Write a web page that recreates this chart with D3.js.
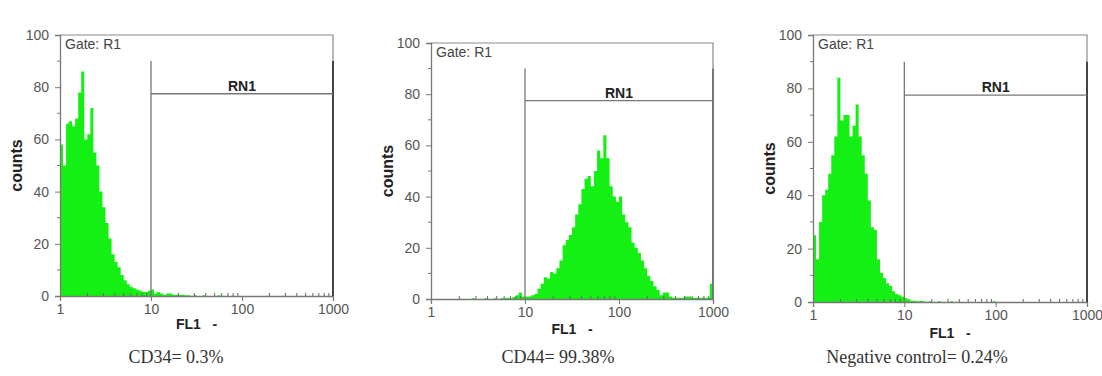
<!DOCTYPE html>
<meta charset="utf-8">
<style>
  body { margin: 0; background: #fff; }
  .tick text { font-family: "Liberation Sans", Arial, sans-serif; font-size: 14px; fill: #555; }
  .caption { font-family: "Liberation Serif", "Times New Roman", serif; font-size: 18px; fill: #333; }
</style>
<body>
<div id="chart"></div>
<script src="https://d3js.org/d3.v7.min.js"></script>
<script>

// histogram counts, 30 bins per decade on FL1 (1 .. 1000)
var cd34Counts = [58, 50, 66, 67, 65, 68, 78, 86, 60, 62, 72, 55, 50, 40, 34, 28, 22, 16, 13, 11,
                  8, 6, 4.5, 3.5, 3, 2.5, 2, 1.5, 1.5, 2, 2.5, 1, 1.5, 1, 0.5, 1, 1, 0.5, 0.5, 0.5,
                  0.5, 0.3, 0.3, 0, 0.3, 0, 0, 0.3, 0, 0, 0, 0, 0.3, 0, 0, 0, 0, 0, 0, 0,
                  0, 0, 0, 0, 0, 0, 0, 0, 0, 0, 0, 0, 0, 0, 0, 0, 0, 0, 0, 0,
                  0, 0, 0, 0, 0, 0, 0, 0, 0, 0];

var cd44Counts = [0, 0, 0, 0, 0, 0, 0, 0, 0, 0, 0, 0, 0, 0.3, 0, 0, 0, 0.3, 0, 0,
                  0.3, 0, 0.3, 0.3, 0.5, 0.3, 0.8, 1.5, 2.5, 1, 1, 1, 1.5, 2, 4, 6, 8.5, 8, 10.5, 10,
                  12, 15, 21, 23, 25, 28, 33, 37, 43, 47, 48, 44, 50, 58, 55, 64, 55, 44, 40, 38,
                  40, 33, 30, 28, 22, 20, 18, 15, 12, 9, 7, 5, 3.5, 1.5, 2.5, 2.5, 1, 0.5, 0.5, 0.5,
                  0.5, 1, 1, 0.5, 0.5, 0.5, 0.5, 0.5, 0.5, 6];

var negCounts = [25, 16, 30, 40, 42, 48, 55, 62, 84, 68, 70, 70, 62, 66, 74, 62, 55, 48, 38, 28,
                 27, 16, 11, 9, 7, 6, 4, 3, 2.5, 2, 1.5, 1, 0.5, 0.5, 0.3, 0.5, 0.3, 0, 0.3, 0,
                 0, 0.3, 0, 0, 0, 0.3, 0, 0, 0, 0, 0, 0, 0, 0, 0, 0, 0, 0, 0, 0.3,
                 0, 0, 0, 0, 0, 0, 0, 0, 0, 0, 0, 0, 0, 0, 0, 0, 0, 0, 0, 0,
                 0, 0, 0, 0, 0, 0, 0, 0, 0, 0];

var captions = ["CD34= 0.3%", "CD44= 99.38%", "Negative control= 0.24%"];
var xTicks = [1, 10, 100, 1000];
var yTicks = [0, 20, 40, 60, 80, 100];
var binsPerDecade = 30;
var gateFrom = 10, gateTo = 1000, gateTop = 90, gateBar = 77.5;

var width = 1102, height = 376;
var sans = "Liberation Sans, Arial, sans-serif";

var svg = d3.select("#chart").append("svg")
    .attr("width", width)
    .attr("height", height);

// plot rectangles for the three panels
var panels = [
  { counts: cd34Counts, left: 60,  right: 333,  top: 35, bottom: 296, capX: 176, fl1Y: 33, gateEnd: "#444" },
  { counts: cd44Counts, left: 431, right: 713,  top: 43, bottom: 299, capX: 558, fl1Y: 35, gateEnd: "#777" },
  { counts: negCounts,  left: 813, right: 1087, top: 35, bottom: 302, capX: 917, fl1Y: 36, gateEnd: "#444" }
];

panels.forEach(function(p, k) {
  var x = d3.scaleLog().domain([1, 1000]).range([p.left, p.right]);
  var y = d3.scaleLinear().domain([0, 100]).range([p.bottom, p.top]);
  var g = svg.append("g");

  // histogram as one stepped area (no seams between bins)
  var pts = p.counts.map(function(d, i) { return [Math.pow(10, i / binsPerDecade), d]; });
  pts.push([1000, p.counts[p.counts.length - 1]]);
  var area = d3.area()
      .x(function(d) { return x(d[0]); })
      .y0(y(0))
      .y1(function(d) { return y(d[1]); })
      .curve(d3.curveStepAfter);
  g.append("path")
      .datum(pts)
      .attr("d", area)
      .attr("fill", "#14f014");

  // frame: top and right
  g.append("path")
      .attr("d", "M" + p.left + "," + p.top + "H" + p.right + "V" + p.bottom)
      .attr("fill", "none")
      .attr("stroke", "#8a8a8a")
      .attr("stroke-width", 1.2);

  // y axis
  var yAxis = g.append("g")
      .attr("transform", "translate(" + p.left + ",0)")
      .call(d3.axisLeft(y).tickValues(yTicks).tickSize(5).tickPadding(6));
  yAxis.select(".domain").attr("stroke", "#777").attr("stroke-width", 1.3);
  yAxis.selectAll(".tick line").attr("stroke", "#777");
  g.append("g").selectAll("line")
      .data(d3.range(10, 100, 20))
    .enter().append("line")
      .attr("x1", p.left - 3).attr("x2", p.left)
      .attr("y1", function(d) { return y(d); })
      .attr("y2", function(d) { return y(d); })
      .attr("stroke", "#777");

  // x axis
  var xAxis = g.append("g")
      .attr("transform", "translate(0," + p.bottom + ")")
      .call(d3.axisBottom(x).tickValues(xTicks).tickFormat(d3.format("d")).tickSize(5).tickPadding(3));
  xAxis.select(".domain").attr("stroke", "#777").attr("stroke-width", 1.3);
  xAxis.selectAll(".tick line").attr("stroke", "#777");
  var minor = [];
  [1, 10, 100].forEach(function(dec) {
    for (var m = 2; m <= 9; m++) minor.push(dec * m);
  });
  g.append("g").selectAll("line")
      .data(minor)
    .enter().append("line")
      .attr("x1", function(d) { return x(d); })
      .attr("x2", function(d) { return x(d); })
      .attr("y1", p.bottom - 3).attr("y2", p.bottom)
      .attr("stroke", "#666");

  // RN1 gate
  g.append("line")
      .attr("x1", x(gateFrom)).attr("x2", x(gateFrom))
      .attr("y1", y(gateTop)).attr("y2", y(0))
      .attr("stroke", "#777").attr("stroke-width", 1.3);
  g.append("line")
      .attr("x1", x(gateTo)).attr("x2", x(gateTo))
      .attr("y1", y(gateTop)).attr("y2", y(0))
      .attr("stroke", p.gateEnd).attr("stroke-width", 2);
  g.append("line")
      .attr("x1", x(gateFrom)).attr("x2", x(gateTo))
      .attr("y1", y(gateBar)).attr("y2", y(gateBar))
      .attr("stroke", "#777").attr("stroke-width", 1.3);
  g.append("text")
      .attr("x", (x(gateFrom) + x(gateTo)) / 2)
      .attr("y", y(gateBar) - 3)
      .attr("text-anchor", "middle")
      .attr("font-family", sans)
      .attr("font-weight", "bold")
      .attr("font-size", 14)
      .attr("fill", "#222")
      .text("RN1");

  g.append("text")
      .attr("x", p.left + 5)
      .attr("y", p.top + 14)
      .attr("font-family", sans)
      .attr("font-size", 14)
      .attr("fill", "#444")
      .text("Gate: R1");

  // axis titles
  g.append("text")
      .attr("transform", "translate(" + (p.left - 38) + "," + ((p.top + p.bottom) / 2) + ") rotate(-90)")
      .attr("text-anchor", "middle")
      .attr("font-family", sans)
      .attr("font-weight", "bold")
      .attr("font-size", 16)
      .attr("fill", "#222")
      .text("counts");

  g.append("text")
      .attr("x", (p.left + p.right) / 2)
      .attr("y", p.bottom + p.fl1Y)
      .attr("text-anchor", "middle")
      .attr("font-family", sans)
      .attr("font-weight", "bold")
      .attr("font-size", 14)
      .attr("fill", "#222")
      .style("white-space", "pre")
      .text("FL1   -");

  g.append("text")
      .attr("class", "caption")
      .attr("x", p.capX)
      .attr("y", 363)
      .attr("text-anchor", "middle")
      .text(captions[k]);
});

</script>
</body>
